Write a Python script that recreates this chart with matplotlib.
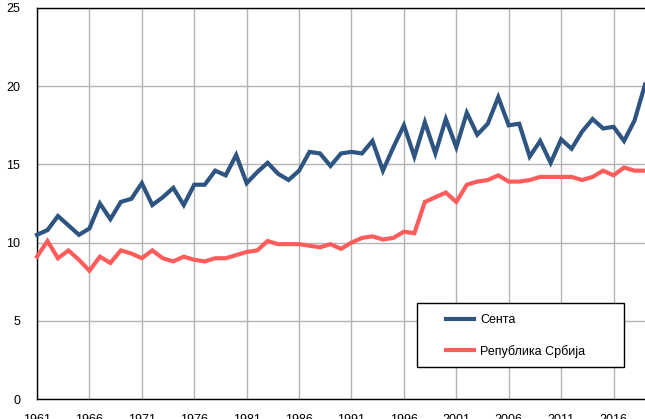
import numpy as np
import matplotlib
matplotlib.use("Agg")
import matplotlib.pyplot as plt
from matplotlib.patches import Rectangle

plt.rcParams["font.family"] = ["Liberation Sans", "DejaVu Sans"]

years = np.arange(1961, 2020)

senta = [
    10.5, 10.8, 11.7, 11.1, 10.5, 10.9, 12.5, 11.5, 12.6, 12.8,
    13.8, 12.4, 12.9, 13.5, 12.4, 13.7, 13.7, 14.6, 14.3, 15.6,
    13.8, 14.5, 15.1, 14.4, 14.0, 14.6, 15.8, 15.7, 14.9, 15.7,
    15.8, 15.7, 16.5, 14.6, 16.1, 17.5, 15.5, 17.7, 15.7, 17.9,
    16.1, 18.3, 16.9, 17.6, 19.3, 17.5, 17.6, 15.5, 16.5, 15.1,
    16.6, 16.0, 17.1, 17.9, 17.3, 17.4, 16.5, 17.8, 20.1,
]

srbija = [
    9.1, 10.1, 9.0, 9.5, 8.9, 8.2, 9.1, 8.7, 9.5, 9.3,
    9.0, 9.5, 9.0, 8.8, 9.1, 8.9, 8.8, 9.0, 9.0, 9.2,
    9.4, 9.5, 10.1, 9.9, 9.9, 9.9, 9.8, 9.7, 9.9, 9.6,
    10.0, 10.3, 10.4, 10.2, 10.3, 10.7, 10.6, 12.6, 12.9, 13.2,
    12.6, 13.7, 13.9, 14.0, 14.3, 13.9, 13.9, 14.0, 14.2, 14.2,
    14.2, 14.2, 14.0, 14.2, 14.6, 14.3, 14.8, 14.6, 14.6,
]

labels = ["Сента", "Република Србија"]
colors = ["#2e5482", "#ff5c5c"]

W, H = 645, 419
fig = plt.figure(figsize=(W / 100, H / 100), dpi=100)
ax = fig.add_axes([37 / W, 20 / H, 608 / W, 391 / H])

ax.plot(years, senta, color=colors[0], linewidth=3, label=labels[0],
        solid_joinstyle="miter", clip_on=False, zorder=3)
ax.plot(years, srbija, color=colors[1], linewidth=3, label=labels[1],
        solid_joinstyle="miter", clip_on=False, zorder=3)

ax.set_xlim(1961, 2019)
ax.set_ylim(0, 25)
ax.set_xticks(np.arange(1961, 2020, 5))
ax.set_yticks(np.arange(0, 26, 5))
ax.grid(True, color="#b3b3b3", linewidth=1)
ax.set_axisbelow(True)
ax.tick_params(length=0, labelsize=9, colors="black")
ax.tick_params(axis="y", pad=12)
ax.tick_params(axis="x", pad=11)

for side in ["left", "top", "bottom"]:
    ax.spines[side].set_color("black")
    ax.spines[side].set_linewidth(1)
ax.spines["right"].set_visible(False)

# legend box (figure pixels, measured from the top)
box = Rectangle((417 / W, (H - 367) / H), 207 / W, 64 / H,
                transform=fig.transFigure, facecolor="white",
                edgecolor="black", linewidth=1, zorder=5)
fig.patches.append(box)

leg = fig.legend(loc="center left", bbox_to_anchor=(446 / W, (H - 336) / H),
                 fontsize=9, frameon=False, handlelength=2.25,
                 handletextpad=0.5, labelspacing=1.45, borderpad=0,
                 borderaxespad=0)
leg.set_zorder(6)

fig.savefig("out.png", dpi=100)
